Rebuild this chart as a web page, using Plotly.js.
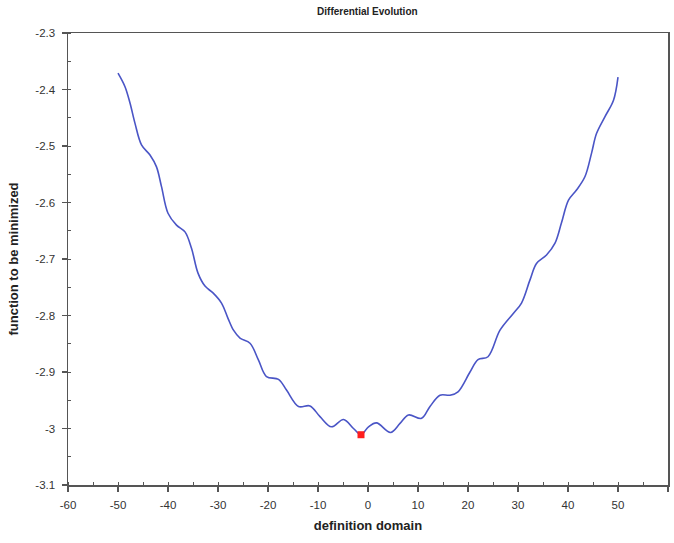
<!DOCTYPE html>
<html>
<head>
<meta charset="utf-8">
<script src="https://cdn.plot.ly/plotly-3.0.1.min.js"></script>
<style>html,body{margin:0;padding:0;background:#fff;}#chart{width:674px;height:543px;}</style>
</head>
<body>
<div id="chart"></div>
<script>
const curveX = [-50, -48.6, -47.6, -46.6, -45.3, -43.6, -42.3, -41.3, -40.0, -38.3, -36.6, -35.3, -34.0, -32.6, -31.0, -29.3, -28.0, -26.9, -25.6, -23.6, -21.9, -20.3, -17.9, -16.3, -13.9, -11.6, -9.6, -7.3, -4.9, -2.9, -1.4, 0.1, 1.7, 4.5, 6.4, 8.1, 10.7, 12.4, 14.4, 16.4, 18.0, 20.4, 22.0, 24.0, 26.4, 29.1, 30.7, 32.4, 33.7, 35.7, 37.4, 38.7, 40.1, 41.7, 43.4, 44.7, 45.7, 47.4, 49.1, 50.0];
const curveY = [-2.371, -2.395, -2.424, -2.460, -2.498, -2.516, -2.537, -2.572, -2.619, -2.640, -2.652, -2.681, -2.725, -2.748, -2.760, -2.778, -2.805, -2.826, -2.840, -2.849, -2.879, -2.908, -2.913, -2.932, -2.961, -2.960, -2.979, -2.997, -2.984, -3.000, -3.011, -2.997, -2.990, -3.007, -2.991, -2.976, -2.982, -2.961, -2.941, -2.941, -2.935, -2.900, -2.878, -2.873, -2.826, -2.796, -2.778, -2.737, -2.708, -2.693, -2.672, -2.636, -2.596, -2.578, -2.554, -2.513, -2.478, -2.448, -2.419, -2.378];
const bestX = [-1.4];
const bestY = [-3.011];
const xTickVals = [-60, -50, -40, -30, -20, -10, 0, 10, 20, 30, 40, 50, 60];
const xTickText = ["-60", "-50", "-40", "-30", "-20", "-10", "0", "10", "20", "30", "40", "50", "60"];
const yTickVals = [-2.3, -2.4, -2.5, -2.6, -2.7, -2.8, -2.9, -3.0, -3.1];
const yTickText = ["-2.3", "-2.4", "-2.5", "-2.6", "-2.7", "-2.8", "-2.9", "-3", "-3.1"];

const traces = [
  {x: curveX, y: curveY, type: 'scatter', mode: 'lines',
   line: {color: '#4a55c6', width: 1.6, shape: 'spline', smoothing: 1}, hoverinfo: 'skip'},
  {x: bestX, y: bestY, type: 'scatter', mode: 'markers',
   marker: {color: '#ff1e1e', size: 7, symbol: 'square'}}
];
const axisCommon = {
  showgrid: false, zeroline: false, showline: true, mirror: true,
  linecolor: '#555', linewidth: 1.5, ticks: 'outside', ticklen: 5, tickwidth: 1.3,
  tickcolor: '#555', ticklabelstandoff: 4,
  tickfont: {family: 'Liberation Sans, Arial, sans-serif', size: 11.5, color: '#333'}
};
const layout = {
  width: 674, height: 543,
  margin: {l: 68, r: 6, t: 33, b: 58},
  paper_bgcolor: '#fff', plot_bgcolor: '#fff',
  showlegend: false,
  title: {text: 'Differential Evolution', x: 0.545, xanchor: 'center', y: 0.985, yanchor: 'top',
          font: {family: 'Liberation Sans, Arial, sans-serif', size: 10, color: '#222', weight: 'bold'}},
  xaxis: Object.assign({}, axisCommon, {
    range: [-60, 60], tickmode: 'array', tickvals: xTickVals, ticktext: xTickText,
    minor: {dtick: 5, ticks: 'inside', ticklen: 3, tickcolor: '#555', tickwidth: 1},
    title: {text: 'definition domain', standoff: 10,
            font: {family: 'Liberation Sans, Arial, sans-serif', size: 13, color: '#222', weight: 'bold'}}
  }),
  yaxis: Object.assign({}, axisCommon, {
    range: [-3.1, -2.3], tickmode: 'array', tickvals: yTickVals, ticktext: yTickText,
    minor: {dtick: 0.05, ticks: 'inside', ticklen: 3, tickcolor: '#555', tickwidth: 1},
    title: {text: 'function to be minimized', standoff: 14,
            font: {family: 'Liberation Sans, Arial, sans-serif', size: 13, color: '#222', weight: 'bold'}}
  })
};
Plotly.newPlot('chart', traces, layout, {displayModeBar: false, staticPlot: true});
</script>
</body>
</html>
